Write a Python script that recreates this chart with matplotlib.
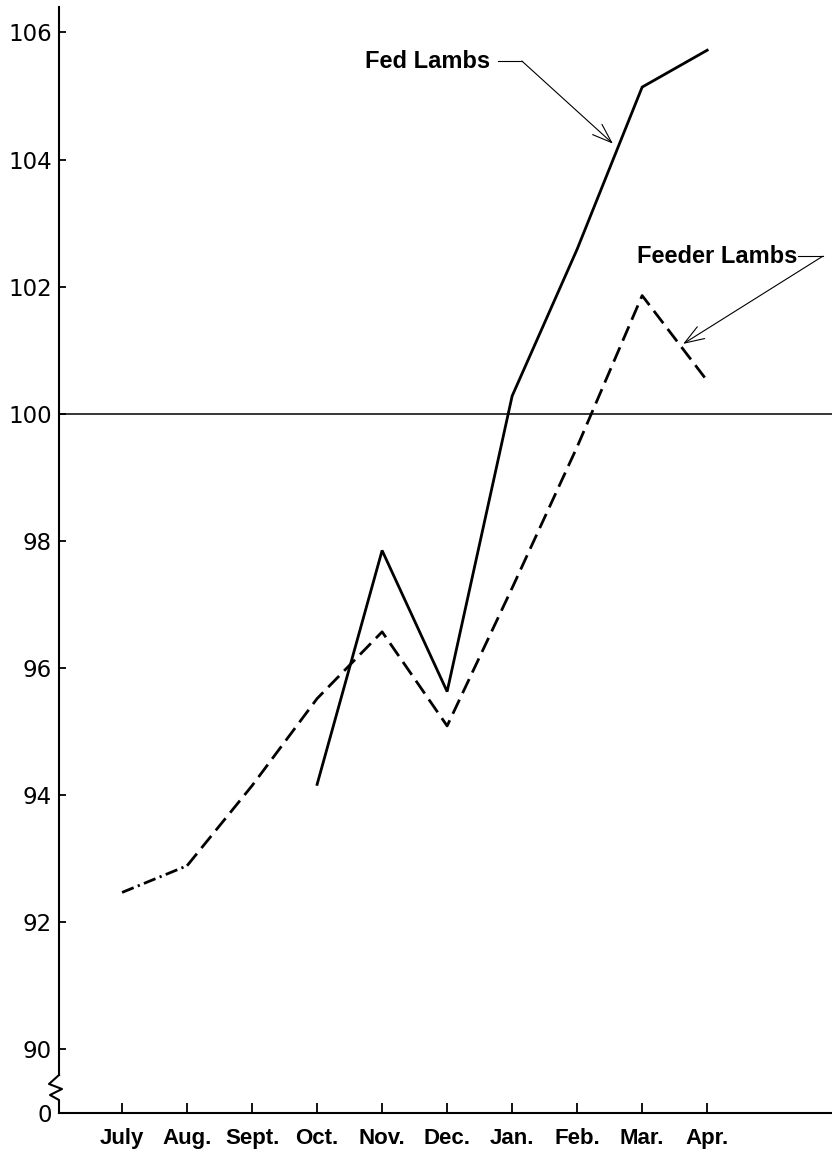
import numpy as np
import matplotlib
matplotlib.use("Agg")
import matplotlib.pyplot as plt

months = ['July', 'Aug.', 'Sept.', 'Oct.', 'Nov.', 'Dec.', 'Jan.', 'Feb.', 'Mar.', 'Apr.']
fed_lambs = [np.nan, np.nan, np.nan, 94.17, 97.85, 95.63, 100.28, 102.59, 105.14, 105.72]
feeder_lambs = [92.47, 92.89, 94.15, 95.52, 96.57, 95.09, 97.26, 99.48, 101.86, 100.52]
ytick_values = [89, 90, 92, 94, 96, 98, 100, 102, 104, 106]
ytick_labels = ['0', '90', '92', '94', '96', '98', '100', '102', '104', '106']

x = np.arange(len(months))

fig = plt.figure(figsize=(8.32, 11.54), dpi=100)
ax = fig.add_axes([59/832, 1-1113/1154, (832-59)/832, (1113-7)/1154])
xmin, xmax = -0.97, 10.92
ymin, ymax = 89.0, 106.4
ax.set_xlim(xmin, xmax)
ax.set_ylim(ymin, ymax)

# reference line at 100
ax.axhline(100, color='black', lw=1.1, zorder=1)

# Fed lambs (solid)
ax.plot(x, fed_lambs, color='black', lw=2.0, solid_joinstyle='miter', zorder=3)

# Feeder lambs (dashed; first segment dash-dot)
ax.plot(x[:2], feeder_lambs[:2], color='black', lw=2.0,
        linestyle=(0, (4.5, 1.6, 0.8, 1.6)), zorder=3)
ax.plot(x[1:], feeder_lambs[1:], color='black', lw=2.0,
        linestyle=(0, (5.6, 2.6)), zorder=3)

# spines
for s in ['top', 'right']:
    ax.spines[s].set_visible(False)
for s in ['left', 'bottom']:
    ax.spines[s].set_linewidth(1.5)

# y-axis break: spine stops above the squiggle
px_x = (xmax - xmin) / 773.0   # data units per pixel (x)
px_y = (ymax - ymin) / 1106.0  # data units per pixel (y)
brk_top = ymin + 38 * px_y
ax.spines['left'].set_bounds(brk_top, ymax)
sq_dx = [0, -10, 3, -9, 0, 0]
sq_dy = [38, 29, 24, 18, 13, 0]
ax.plot([xmin + d * px_x for d in sq_dx], [ymin + d * px_y for d in sq_dy],
        color='black', lw=1.5, clip_on=False, zorder=4)

# ticks
ax.set_yticks(ytick_values)
ax.set_yticklabels(ytick_labels, fontfamily='DejaVu Sans', fontsize=16.5)
ax.tick_params(axis='y', direction='in', length=5, width=1.3, pad=5)
ax.set_xticks(x)
ax.set_xticklabels(months, fontfamily='Liberation Sans', fontweight='bold', fontsize=16)
ax.tick_params(axis='x', direction='in', length=7, width=1.3, pad=11)

# annotations
ann_font = dict(fontfamily='Liberation Sans', fontweight='bold', fontsize=17)
ax.text(5.66, 105.55, 'Fed Lambs', ha='right', va='center', **ann_font)
ax.plot([5.78, 6.15], [105.55, 105.55], color='black', lw=0.8)
ax.annotate('', xy=(7.55, 104.25), xytext=(6.15, 105.55),
            arrowprops=dict(arrowstyle='->,head_length=0.7,head_width=0.25',
                            color='black', lw=0.8, shrinkA=0, shrinkB=0,
                            mutation_scale=20))

ax.text(10.38, 102.48, 'Feeder Lambs', ha='right', va='center', **ann_font)
ax.plot([10.40, 10.78], [102.48, 102.48], color='black', lw=0.8, clip_on=False)
ax.annotate('', xy=(8.63, 101.1), xytext=(10.78, 102.48),
            arrowprops=dict(arrowstyle='->,head_length=0.7,head_width=0.25',
                            color='black', lw=0.8, shrinkA=0, shrinkB=0,
                            mutation_scale=20))

fig.savefig('out.png', dpi=100)
